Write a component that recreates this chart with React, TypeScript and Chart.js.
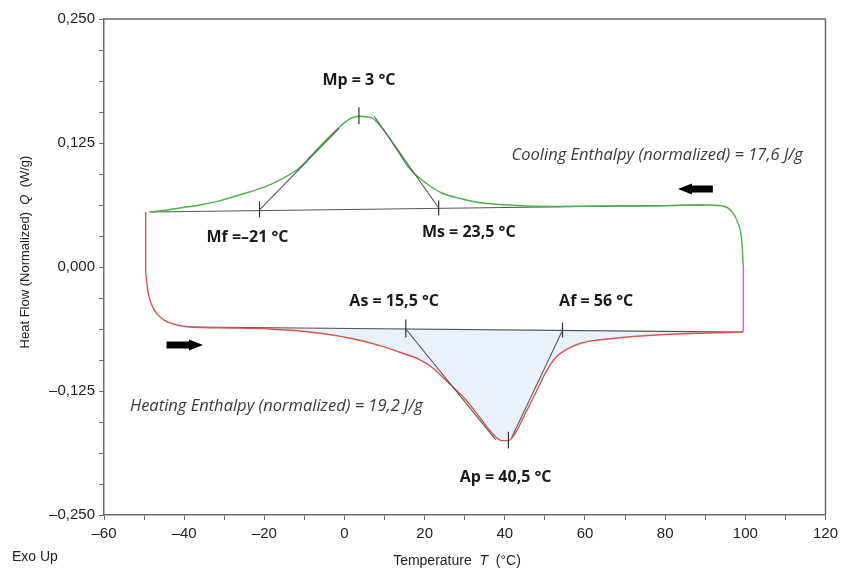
import React, { useEffect, useRef } from "react";
import { Chart, registerables } from "chart.js";

Chart.register(...registerables);

// ---- Data (Temperature °C, Heat flow W/g) ----
const coolingT = [-48.6, -46.1, -41.1, -36.1, -31.2, -26.2, -23.7, -18.7, -11.3, -7.0, -1.8, 1.2, 3.6, 6.9, 9.4, 13.6, 16.1, 20.3, 24.3, 29.3, 33.5, 38.5, 50.9, 63.3, 75.8, 89.7, 94.4, 96.4, 98.1, 99.1, 99.5];
const coolingQ = [0.0555, 0.0565, 0.0595, 0.0625, 0.0666, 0.0726, 0.0756, 0.0827, 0.0998, 0.118, 0.139, 0.149, 0.152, 0.150, 0.140, 0.115, 0.0998, 0.0847, 0.0746, 0.0686, 0.0650, 0.0630, 0.0610, 0.0615, 0.0615, 0.0625, 0.0615, 0.057, 0.045, 0.027, 0.0];

const heatingT = [-49.6, -49.1, -48.1, -46.6, -44.8, -42.3, -38.6, -28.7, -18.7, -8.8, 1.2, 9.4, 13.6, 18.6, 21.8, 26.0, 30.3, 34.2, 37.2, 39.2, 40.9, 42.7, 45.2, 47.7, 50.1, 52.6, 55.1, 59.1, 63.3, 75.8, 88.2, 99.4];
const heatingQ = [-0.005, -0.023, -0.038, -0.048, -0.054, -0.058, -0.0605, -0.0615, -0.0625, -0.0655, -0.0716, -0.080, -0.0857, -0.093, -0.101, -0.117, -0.134, -0.154, -0.169, -0.175, -0.175, -0.167, -0.147, -0.127, -0.107, -0.0917, -0.0837, -0.0766, -0.0736, -0.0690, -0.0668, -0.0656];

const startT = [-49.6, -49.6];
const startQ = [0.0555, -0.005];
const endT = [99.5, 99.5];
const endQ = [0.0, -0.0656];

const coolBaseT = [-48.6, 89.7];
const coolBaseQ = [0.0555, 0.0625];
const heatBaseT = [-38.6, 99.4];
const heatBaseQ = [-0.0605, -0.0656];

// tangent lines [T1, Q1, T2, Q2]
const tangents = [
  [-21.2, 0.0575, -1.3, 0.140],
  [23.5, 0.0595, 7.4, 0.152],
  [15.3, -0.0625, 37.7, -0.174],
  [54.4, -0.0638, 41.7, -0.172],
];
// characteristic point marks [T, Qlow, Qhigh]
const marks = [
  [3.6, 0.144, 0.161],
  [-21.2, 0.050, 0.066],
  [23.5, 0.052, 0.067],
  [15.3, -0.071, -0.053],
  [54.4, -0.071, -0.056],
  [40.9, -0.183, -0.166],
];

const fillT = [-18.7, -8.8, 1.2, 9.4, 13.6, 18.6, 21.8, 26.0, 30.3, 34.2, 37.2, 39.2, 40.9, 42.7, 45.2, 47.7, 50.1, 52.6, 55.1, 59.1, 63.3, 75.8, 88.2, 88.2, -18.7];
const fillQ = [-0.0625, -0.0655, -0.0716, -0.080, -0.0857, -0.093, -0.101, -0.117, -0.134, -0.154, -0.169, -0.175, -0.175, -0.167, -0.147, -0.127, -0.107, -0.0917, -0.0837, -0.0766, -0.0736, -0.0690, -0.0668, -0.0641, -0.0611];

const labels = [
  { text: "Mp = 3 °C", T: 3.6, Q: 0.1885, style: "bold" },
  { text: "Mf =–21 °C", T: -24.2, Q: 0.0303, style: "bold" },
  { text: "Ms = 23,5 °C", T: 31.0, Q: 0.0353, style: "bold" },
  { text: "As = 15,5 °C", T: 12.4, Q: -0.0343, style: "bold" },
  { text: "Af = 56 °C", T: 62.8, Q: -0.0343, style: "bold" },
  { text: "Ap = 40,5 °C", T: 40.2, Q: -0.2117, style: "bold" },
  { text: "Cooling Enthalpy (normalized) = 17,6 J/g", T: 78.0, Q: 0.113, style: "italic" },
  { text: "Heating Enthalpy (normalized) = 19,2 J/g", T: -17.0, Q: -0.140, style: "italic" },
];
// arrows [tailT, headT, Q]
const arrows = [
  [-44.4, -35.3, -0.0786],
  [91.9, 83.2, 0.0786],
];

const xTitle = ["Temperature  ", "T", "  (°C)"];
const yTitle = ["Heat Flow (Normalized)  ", "Q", "  (W/g)"];

const pts = (xs: number[], ys: number[]) => xs.map((x, i) => ({ x, y: ys[i] }));

const AXIS = "#6b6b6b";
const FONT = "'Liberation Sans', Arial, sans-serif";
const ANN_FONT = "'Open Sans', 'Noto Sans', sans-serif";

const fmt = (v: number, d: number) => {
  const s = Math.abs(v).toFixed(d).replace(".", ",");
  return v < -1e-9 ? "\u2013" + s : s;
};

const overlay = {
  id: "overlay",
  afterDatasetsDraw(chart: any) {
    const ctx = chart.ctx;
    const xs = chart.scales.x;
    const ys = chart.scales.y;
    const ca = chart.chartArea;
    ctx.save();
    // frame top & right
    ctx.strokeStyle = AXIS;
    ctx.lineWidth = 1.5;
    ctx.beginPath();
    ctx.moveTo(ca.left, ca.top);
    ctx.lineTo(ca.right, ca.top);
    ctx.lineTo(ca.right, ca.bottom);
    ctx.stroke();

    // arrows
    ctx.fillStyle = "#000";
    for (const [t0, t1, q] of arrows) {
      const x0 = xs.getPixelForValue(t0);
      const x1 = xs.getPixelForValue(t1);
      const y = ys.getPixelForValue(q);
      const dir = Math.sign(x1 - x0);
      const headLen = 14;
      const xh = x1 - dir * headLen;
      ctx.beginPath();
      ctx.moveTo(x0, y - 3.5);
      ctx.lineTo(xh, y - 3.5);
      ctx.lineTo(xh, y - 5.5);
      ctx.lineTo(x1, y);
      ctx.lineTo(xh, y + 5.5);
      ctx.lineTo(xh, y + 3.5);
      ctx.lineTo(x0, y + 3.5);
      ctx.closePath();
      ctx.fill();
    }

    // annotations
    ctx.textAlign = "center";
    ctx.textBaseline = "middle";
    for (const l of labels) {
      if (l.style === "bold") {
        ctx.font = `bold 16px ${ANN_FONT}`;
        ctx.fillStyle = "#1a1a1a";
      } else {
        ctx.font = `italic 16.5px ${ANN_FONT}`;
        ctx.fillStyle = "#3a3a3a";
      }
      ctx.fillText(l.text, xs.getPixelForValue(l.T), ys.getPixelForValue(l.Q));
    }
    ctx.restore();
  },
  afterDraw(chart: any) {
    const ctx = chart.ctx;
    ctx.save();
    ctx.fillStyle = "#222";
    ctx.textBaseline = "middle";
    const drawParts = (parts: string[], cx: number, cy: number, rot: number, size: number) => {
      ctx.save();
      ctx.translate(cx, cy);
      ctx.rotate(rot);
      const fonts = parts.map((_, i) => (i === 1 ? `italic ${size}px ${FONT}` : `${size}px ${FONT}`));
      let total = 0;
      const widths = parts.map((p, i) => {
        ctx.font = fonts[i];
        const w = ctx.measureText(p).width;
        total += w;
        return w;
      });
      let x = -total / 2;
      ctx.textAlign = "left";
      parts.forEach((p, i) => {
        ctx.font = fonts[i];
        ctx.fillText(p, x, 0);
        x += widths[i];
      });
      ctx.restore();
    };
    drawParts(xTitle, 457, 561, 0, 14);
    drawParts(yTitle, 25, 252, -Math.PI / 2, 13);
    ctx.font = `14px ${FONT}`;
    ctx.textAlign = "left";
    ctx.fillText("Exo Up", 12, 557);
    ctx.restore();
  },
};

export default function App() {
  const ref = useRef<HTMLCanvasElement>(null);
  useEffect(() => {
    document.body.style.margin = "0";
    const line = (data: any[], color: string, width = 1.3, extra: any = {}) => ({
      type: "line",
      data,
      borderColor: color,
      borderWidth: width,
      pointRadius: 0,
      fill: false,
      tension: 0,
      ...extra,
    });
    const segs = (list: number[][], kind: "t" | "m") => {
      const out: any[] = [];
      for (const s of list) {
        if (kind === "t") out.push({ x: s[0], y: s[1] }, { x: s[2], y: s[3] });
        else out.push({ x: s[0], y: s[1] }, { x: s[0], y: s[2] });
        out.push({ x: NaN, y: null });
      }
      return out;
    };
    const chart = new Chart(ref.current!, {
      type: "scatter",
      data: {
        datasets: [
          line(pts(fillT, fillQ), "rgba(0,0,0,0)", 0, { fill: "shape", backgroundColor: "#e9f2fb", order: 20 }),
          line(pts(coolBaseT, coolBaseQ), "#555", 1.1, { order: 5 }),
          line(pts(heatBaseT, heatBaseQ), "#555", 1.1, { order: 5 }),
          line(pts(coolingT, coolingQ), "#4fae4f", 1.4, { order: 3, cubicInterpolationMode: "monotone" }),
          line(pts(heatingT, heatingQ), "#d9534f", 1.4, { order: 3, cubicInterpolationMode: "monotone" }),
          line(pts(startT, startQ), "#ff4040", 1.4, { order: 3 }),
          line(pts(endT, endQ), "#ff40ff", 1.4, { order: 3 }),
          line(segs(tangents, "t"), "#555", 1.1, { order: 1, spanGaps: false }),
          line(segs(marks, "m"), "#333", 1.2, { order: 1, spanGaps: false }),
        ] as any,
      },
      options: {
        animation: false,
        responsive: false,
        layout: { padding: { top: 19, right: 15, left: 0, bottom: 0 } },
        plugins: { legend: { display: false }, tooltip: { enabled: false } },
        scales: {
          x: {
            type: "linear",
            min: -60,
            max: 120,
            afterFit: (s: any) => { s.height = 55; },
            border: { color: AXIS, width: 1.5 },
            grid: { drawOnChartArea: false, drawTicks: true, tickLength: 5, color: AXIS },
            ticks: {
              stepSize: 10,
              autoSkip: false,
              maxRotation: 0,
              padding: 5,
              color: "#222",
              font: { family: FONT, size: 15 },
              callback: (v: any) => (Math.round(v) % 20 === 0 ? fmt(v, 0) : ""),
            },
          },
          y: {
            type: "linear",
            min: -0.25,
            max: 0.25,
            afterFit: (s: any) => { s.width = 104; },
            border: { color: AXIS, width: 1.5 },
            grid: { drawOnChartArea: false, drawTicks: true, tickLength: 5, color: AXIS },
            ticks: {
              stepSize: 0.03125,
              autoSkip: false,
              padding: 4,
              color: "#222",
              font: { family: FONT, size: 15 },
              callback: (v: any) => {
                const k = v / 0.125;
                return Math.abs(k - Math.round(k)) < 1e-6 ? fmt(v, 3) : "";
              },
            },
          },
        },
      },
      plugins: [overlay],
    } as any);
    return () => chart.destroy();
  }, []);
  return (
    <div style={{ width: 843, height: 570 }}>
      <canvas ref={ref} width={843} height={570} style={{ display: "block" }} />
    </div>
  );
}
